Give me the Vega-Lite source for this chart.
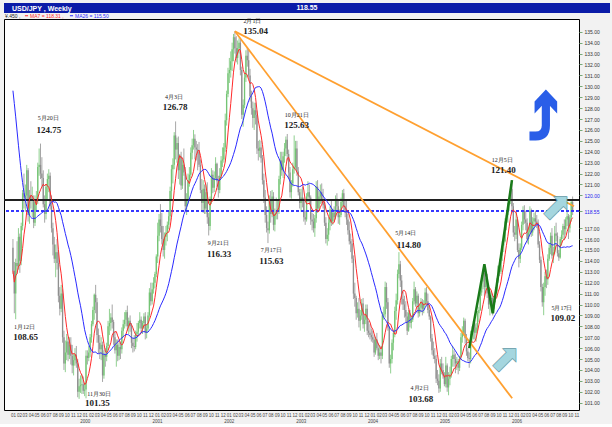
{
"$schema": "https://vega.github.io/schema/vega-lite/v6.json",
"background": "#f2f2f2",
"padding": {"left": 3, "top": 3, "right": 3, "bottom": 1},
"bounds": "flush",
"spacing": 6,
"config": {"view": {"stroke": null}, "font": "Liberation Sans", "axis": {"labelOverlap": false}},
"datasets": {
"fx": [
{"d":"1999-01-01","o":115.2,"h":116.0,"l":112.8,"c":113.1},
{"d":"1999-01-08","o":113.1,"h":113.9,"l":109.2,"c":111.0},
{"d":"1999-01-15","o":111.0,"h":114.2,"l":108.65,"c":113.8},
{"d":"1999-01-22","o":113.8,"h":115.8,"l":112.8,"c":113.5},
{"d":"1999-01-29","o":113.5,"h":117.0,"l":113.2,"c":116.2},
{"d":"1999-02-05","o":116.2,"h":116.5,"l":112.9,"c":114.0},
{"d":"1999-02-12","o":114.0,"h":117.5,"l":113.6,"c":117.2},
{"d":"1999-02-19","o":117.2,"h":120.5,"l":116.8,"c":120.2},
{"d":"1999-02-26","o":120.2,"h":122.0,"l":118.8,"c":119.8},
{"d":"1999-03-05","o":119.8,"h":121.0,"l":118.5,"c":120.0},
{"d":"1999-03-12","o":120.0,"h":122.8,"l":119.6,"c":122.3},
{"d":"1999-03-19","o":122.3,"h":122.5,"l":117.6,"c":118.2},
{"d":"1999-03-26","o":118.2,"h":120.5,"l":117.4,"c":120.0},
{"d":"1999-04-02","o":120.0,"h":121.3,"l":118.8,"c":119.6},
{"d":"1999-04-09","o":119.6,"h":120.8,"l":118.0,"c":119.7},
{"d":"1999-04-16","o":119.7,"h":120.0,"l":117.0,"c":117.5},
{"d":"1999-04-23","o":117.5,"h":120.0,"l":117.2,"c":119.4},
{"d":"1999-04-30","o":119.4,"h":120.4,"l":118.5,"c":119.6},
{"d":"1999-05-07","o":119.6,"h":123.0,"l":119.2,"c":122.6},
{"d":"1999-05-14","o":122.6,"h":124.3,"l":121.8,"c":122.8},
{"d":"1999-05-21","o":122.8,"h":124.75,"l":121.5,"c":122.0},
{"d":"1999-05-28","o":122.0,"h":123.5,"l":120.8,"c":121.6},
{"d":"1999-06-04","o":121.6,"h":122.3,"l":118.9,"c":119.2},
{"d":"1999-06-11","o":119.2,"h":120.0,"l":117.5,"c":118.3},
{"d":"1999-06-18","o":118.3,"h":121.0,"l":117.8,"c":120.8},
{"d":"1999-06-25","o":120.8,"h":122.0,"l":119.6,"c":121.5},
{"d":"1999-07-02","o":121.5,"h":122.4,"l":120.3,"c":121.8},
{"d":"1999-07-09","o":121.8,"h":122.1,"l":118.7,"c":119.0},
{"d":"1999-07-16","o":119.0,"h":120.0,"l":116.6,"c":117.0},
{"d":"1999-07-23","o":117.0,"h":117.5,"l":114.5,"c":115.5},
{"d":"1999-07-30","o":115.5,"h":116.2,"l":113.8,"c":114.2},
{"d":"1999-08-06","o":114.2,"h":115.5,"l":112.5,"c":114.8},
{"d":"1999-08-13","o":114.8,"h":116.0,"l":113.2,"c":113.8},
{"d":"1999-08-20","o":113.8,"h":115.0,"l":110.2,"c":110.8},
{"d":"1999-08-27","o":110.8,"h":111.6,"l":109.0,"c":109.6},
{"d":"1999-09-03","o":109.6,"h":111.8,"l":109.3,"c":111.0},
{"d":"1999-09-10","o":111.0,"h":111.4,"l":106.5,"c":107.0},
{"d":"1999-09-17","o":107.0,"h":107.6,"l":104.0,"c":104.6},
{"d":"1999-09-24","o":104.6,"h":106.7,"l":103.8,"c":105.6},
{"d":"1999-10-01","o":105.6,"h":107.3,"l":104.9,"c":106.6},
{"d":"1999-10-08","o":106.6,"h":107.0,"l":104.8,"c":105.4},
{"d":"1999-10-15","o":105.4,"h":107.0,"l":105.0,"c":106.3},
{"d":"1999-10-22","o":106.3,"h":107.0,"l":104.5,"c":105.3},
{"d":"1999-10-29","o":105.3,"h":106.3,"l":103.7,"c":104.4},
{"d":"1999-11-05","o":104.4,"h":105.5,"l":103.5,"c":104.9},
{"d":"1999-11-12","o":104.9,"h":106.0,"l":104.4,"c":105.4},
{"d":"1999-11-19","o":105.4,"h":106.2,"l":104.2,"c":104.6},
{"d":"1999-11-26","o":104.6,"h":105.0,"l":101.5,"c":102.0},
{"d":"1999-12-03","o":102.0,"h":103.2,"l":101.35,"c":102.5},
{"d":"1999-12-10","o":102.5,"h":103.5,"l":101.9,"c":102.6},
{"d":"1999-12-17","o":102.6,"h":103.6,"l":101.8,"c":102.7},
{"d":"1999-12-24","o":102.7,"h":103.4,"l":101.8,"c":102.1},
{"d":"1999-12-31","o":102.1,"h":102.8,"l":101.6,"c":102.2},
{"d":"2000-01-07","o":102.2,"h":105.8,"l":101.4,"c":105.3},
{"d":"2000-01-14","o":105.3,"h":105.8,"l":104.5,"c":105.1},
{"d":"2000-01-21","o":105.1,"h":106.2,"l":104.8,"c":105.6},
{"d":"2000-01-28","o":105.6,"h":107.3,"l":105.2,"c":107.0},
{"d":"2000-02-04","o":107.0,"h":108.5,"l":106.5,"c":108.2},
{"d":"2000-02-11","o":108.2,"h":109.8,"l":108.0,"c":109.5},
{"d":"2000-02-18","o":109.5,"h":111.0,"l":108.6,"c":110.9},
{"d":"2000-02-25","o":110.9,"h":111.8,"l":109.2,"c":110.2},
{"d":"2000-03-03","o":110.2,"h":110.6,"l":106.5,"c":107.2},
{"d":"2000-03-10","o":107.2,"h":107.8,"l":105.5,"c":106.5},
{"d":"2000-03-17","o":106.5,"h":107.2,"l":105.0,"c":105.9},
{"d":"2000-03-24","o":105.9,"h":107.0,"l":104.9,"c":106.3},
{"d":"2000-03-31","o":106.3,"h":106.6,"l":102.9,"c":103.5},
{"d":"2000-04-07","o":103.5,"h":105.8,"l":103.2,"c":105.4},
{"d":"2000-04-14","o":105.4,"h":106.0,"l":104.3,"c":105.2},
{"d":"2000-04-21","o":105.2,"h":106.5,"l":104.8,"c":106.2},
{"d":"2000-04-28","o":106.2,"h":108.5,"l":105.8,"c":108.0},
{"d":"2000-05-05","o":108.0,"h":109.6,"l":107.2,"c":108.3},
{"d":"2000-05-12","o":108.3,"h":109.2,"l":107.6,"c":108.8},
{"d":"2000-05-19","o":108.8,"h":110.0,"l":107.8,"c":108.4},
{"d":"2000-05-26","o":108.4,"h":108.6,"l":106.3,"c":107.0},
{"d":"2000-06-02","o":107.0,"h":107.5,"l":105.5,"c":105.8},
{"d":"2000-06-09","o":105.8,"h":106.8,"l":104.3,"c":106.3},
{"d":"2000-06-16","o":106.3,"h":106.8,"l":104.8,"c":105.3},
{"d":"2000-06-23","o":105.3,"h":106.5,"l":104.9,"c":106.1},
{"d":"2000-06-30","o":106.1,"h":106.6,"l":105.0,"c":105.9},
{"d":"2000-07-07","o":105.9,"h":107.9,"l":105.5,"c":107.6},
{"d":"2000-07-14","o":107.6,"h":108.6,"l":107.0,"c":108.2},
{"d":"2000-07-21","o":108.2,"h":109.3,"l":107.8,"c":108.6},
{"d":"2000-07-28","o":108.6,"h":109.5,"l":108.0,"c":109.3},
{"d":"2000-08-04","o":109.3,"h":109.9,"l":107.6,"c":108.0},
{"d":"2000-08-11","o":108.0,"h":108.8,"l":107.3,"c":108.5},
{"d":"2000-08-18","o":108.5,"h":109.0,"l":107.5,"c":108.0},
{"d":"2000-08-25","o":108.0,"h":108.3,"l":106.0,"c":106.5},
{"d":"2000-09-01","o":106.5,"h":106.9,"l":105.6,"c":106.2},
{"d":"2000-09-08","o":106.2,"h":107.2,"l":105.7,"c":106.1},
{"d":"2000-09-15","o":106.1,"h":107.6,"l":105.9,"c":107.3},
{"d":"2000-09-22","o":107.3,"h":108.3,"l":106.6,"c":107.5},
{"d":"2000-09-29","o":107.5,"h":108.5,"l":107.1,"c":108.3},
{"d":"2000-10-06","o":108.3,"h":109.3,"l":107.8,"c":108.6},
{"d":"2000-10-13","o":108.6,"h":108.9,"l":107.4,"c":107.8},
{"d":"2000-10-20","o":107.8,"h":108.5,"l":107.3,"c":108.3},
{"d":"2000-10-27","o":108.3,"h":109.2,"l":107.8,"c":108.9},
{"d":"2000-11-03","o":108.9,"h":109.3,"l":106.8,"c":107.4},
{"d":"2000-11-10","o":107.4,"h":108.2,"l":106.9,"c":107.8},
{"d":"2000-11-17","o":107.8,"h":109.3,"l":107.6,"c":109.0},
{"d":"2000-11-24","o":109.0,"h":111.5,"l":108.8,"c":111.1},
{"d":"2000-12-01","o":111.1,"h":112.0,"l":109.9,"c":110.3},
{"d":"2000-12-08","o":110.3,"h":112.0,"l":110.0,"c":111.4},
{"d":"2000-12-15","o":111.4,"h":112.5,"l":111.0,"c":112.0},
{"d":"2000-12-22","o":112.0,"h":113.0,"l":111.5,"c":112.8},
{"d":"2000-12-29","o":112.8,"h":114.6,"l":112.5,"c":114.4},
{"d":"2001-01-05","o":114.4,"h":117.5,"l":113.8,"c":116.3},
{"d":"2001-01-12","o":116.3,"h":118.3,"l":115.8,"c":117.8},
{"d":"2001-01-19","o":117.8,"h":119.2,"l":116.6,"c":117.2},
{"d":"2001-01-26","o":117.2,"h":118.4,"l":115.5,"c":116.0},
{"d":"2001-02-02","o":116.0,"h":117.2,"l":114.4,"c":115.0},
{"d":"2001-02-09","o":115.0,"h":116.6,"l":114.2,"c":116.2},
{"d":"2001-02-16","o":116.2,"h":117.2,"l":115.4,"c":116.6},
{"d":"2001-02-23","o":116.6,"h":117.6,"l":115.8,"c":117.3},
{"d":"2001-03-02","o":117.3,"h":118.6,"l":116.9,"c":118.1},
{"d":"2001-03-09","o":118.1,"h":120.8,"l":117.7,"c":120.4},
{"d":"2001-03-16","o":120.4,"h":122.8,"l":119.5,"c":122.4},
{"d":"2001-03-23","o":122.4,"h":123.4,"l":121.1,"c":122.8},
{"d":"2001-03-30","o":122.8,"h":125.8,"l":122.4,"c":125.5},
{"d":"2001-04-06","o":125.5,"h":126.78,"l":123.3,"c":124.2},
{"d":"2001-04-13","o":124.2,"h":125.3,"l":123.0,"c":124.8},
{"d":"2001-04-20","o":124.8,"h":125.4,"l":121.5,"c":122.3},
{"d":"2001-04-27","o":122.3,"h":123.8,"l":121.0,"c":123.6},
{"d":"2001-05-04","o":123.6,"h":124.0,"l":120.5,"c":120.9},
{"d":"2001-05-11","o":120.9,"h":123.3,"l":120.6,"c":122.8},
{"d":"2001-05-18","o":122.8,"h":124.3,"l":121.8,"c":122.1},
{"d":"2001-05-25","o":122.1,"h":122.6,"l":118.5,"c":119.0},
{"d":"2001-06-01","o":119.0,"h":120.2,"l":118.2,"c":119.5},
{"d":"2001-06-08","o":119.5,"h":122.0,"l":119.2,"c":121.4},
{"d":"2001-06-15","o":121.4,"h":122.6,"l":120.8,"c":121.9},
{"d":"2001-06-22","o":121.9,"h":124.4,"l":121.6,"c":123.9},
{"d":"2001-06-29","o":123.9,"h":125.2,"l":123.3,"c":124.6},
{"d":"2001-07-06","o":124.6,"h":126.0,"l":124.2,"c":125.2},
{"d":"2001-07-13","o":125.2,"h":125.6,"l":123.3,"c":124.4},
{"d":"2001-07-20","o":124.4,"h":125.0,"l":123.2,"c":124.2},
{"d":"2001-07-27","o":124.2,"h":124.7,"l":122.3,"c":124.0},
{"d":"2001-08-03","o":124.0,"h":124.9,"l":122.6,"c":122.8},
{"d":"2001-08-10","o":122.8,"h":123.3,"l":120.2,"c":120.5},
{"d":"2001-08-17","o":120.5,"h":121.5,"l":118.6,"c":119.3},
{"d":"2001-08-24","o":119.3,"h":121.4,"l":118.4,"c":120.6},
{"d":"2001-08-31","o":120.6,"h":121.0,"l":118.3,"c":118.8},
{"d":"2001-09-07","o":118.8,"h":121.0,"l":118.3,"c":120.3},
{"d":"2001-09-14","o":120.3,"h":121.2,"l":117.4,"c":118.0},
{"d":"2001-09-21","o":118.0,"h":118.4,"l":116.33,"c":117.2},
{"d":"2001-09-28","o":117.2,"h":119.9,"l":116.8,"c":119.5},
{"d":"2001-10-05","o":119.5,"h":122.5,"l":119.2,"c":121.9},
{"d":"2001-10-12","o":121.9,"h":122.3,"l":120.2,"c":120.7},
{"d":"2001-10-19","o":120.7,"h":122.2,"l":120.3,"c":121.6},
{"d":"2001-10-26","o":121.6,"h":123.5,"l":121.4,"c":122.9},
{"d":"2001-11-02","o":122.9,"h":123.0,"l":120.8,"c":121.3},
{"d":"2001-11-09","o":121.3,"h":121.8,"l":119.8,"c":120.5},
{"d":"2001-11-16","o":120.5,"h":122.5,"l":120.2,"c":121.8},
{"d":"2001-11-23","o":121.8,"h":123.6,"l":121.5,"c":123.2},
{"d":"2001-11-30","o":123.2,"h":124.4,"l":122.6,"c":123.3},
{"d":"2001-12-07","o":123.3,"h":124.8,"l":123.0,"c":124.4},
{"d":"2001-12-14","o":124.4,"h":127.5,"l":124.0,"c":126.9},
{"d":"2001-12-21","o":126.9,"h":129.6,"l":126.4,"c":129.3},
{"d":"2001-12-28","o":129.3,"h":131.7,"l":129.0,"c":131.2},
{"d":"2002-01-04","o":131.2,"h":132.6,"l":130.3,"c":131.5},
{"d":"2002-01-11","o":131.5,"h":133.2,"l":130.8,"c":132.3},
{"d":"2002-01-18","o":132.3,"h":134.0,"l":131.4,"c":133.4},
{"d":"2002-01-25","o":133.4,"h":134.8,"l":132.3,"c":134.5},
{"d":"2002-02-01","o":134.5,"h":135.04,"l":133.0,"c":133.5},
{"d":"2002-02-08","o":133.5,"h":134.6,"l":132.2,"c":132.6},
{"d":"2002-02-15","o":132.6,"h":134.2,"l":132.0,"c":133.5},
{"d":"2002-02-22","o":133.5,"h":134.4,"l":133.0,"c":134.0},
{"d":"2002-03-01","o":134.0,"h":134.3,"l":131.0,"c":131.5},
{"d":"2002-03-08","o":131.5,"h":131.8,"l":127.0,"c":127.4},
{"d":"2002-03-15","o":127.4,"h":128.8,"l":126.3,"c":128.3},
{"d":"2002-03-22","o":128.3,"h":131.2,"l":128.0,"c":130.8},
{"d":"2002-03-29","o":130.8,"h":133.3,"l":130.4,"c":132.8},
{"d":"2002-04-05","o":132.8,"h":133.6,"l":131.8,"c":132.4},
{"d":"2002-04-12","o":132.4,"h":133.4,"l":130.8,"c":131.0},
{"d":"2002-04-19","o":131.0,"h":131.6,"l":128.6,"c":129.1},
{"d":"2002-04-26","o":129.1,"h":129.6,"l":127.4,"c":128.0},
{"d":"2002-05-03","o":128.0,"h":128.6,"l":126.2,"c":127.1},
{"d":"2002-05-10","o":127.1,"h":128.5,"l":126.0,"c":127.8},
{"d":"2002-05-17","o":127.8,"h":128.5,"l":126.5,"c":127.4},
{"d":"2002-05-24","o":127.4,"h":127.8,"l":123.8,"c":124.3},
{"d":"2002-05-31","o":124.3,"h":125.0,"l":123.2,"c":124.1},
{"d":"2002-06-07","o":124.1,"h":125.1,"l":123.5,"c":124.4},
{"d":"2002-06-14","o":124.4,"h":125.0,"l":123.0,"c":123.4},
{"d":"2002-06-21","o":123.4,"h":123.7,"l":121.0,"c":121.4},
{"d":"2002-06-28","o":121.4,"h":122.0,"l":119.3,"c":119.8},
{"d":"2002-07-05","o":119.8,"h":120.5,"l":117.5,"c":118.2},
{"d":"2002-07-12","o":118.2,"h":119.0,"l":116.6,"c":117.0},
{"d":"2002-07-19","o":117.0,"h":117.6,"l":115.63,"c":116.8},
{"d":"2002-07-26","o":116.8,"h":120.0,"l":116.5,"c":119.6},
{"d":"2002-08-02","o":119.6,"h":120.4,"l":117.5,"c":118.3},
{"d":"2002-08-09","o":118.3,"h":120.5,"l":118.0,"c":119.9},
{"d":"2002-08-16","o":119.9,"h":120.3,"l":116.8,"c":117.3},
{"d":"2002-08-23","o":117.3,"h":118.8,"l":116.7,"c":118.3},
{"d":"2002-08-30","o":118.3,"h":119.8,"l":117.8,"c":118.6},
{"d":"2002-09-06","o":118.6,"h":119.5,"l":117.8,"c":118.5},
{"d":"2002-09-13","o":118.5,"h":121.8,"l":118.3,"c":121.5},
{"d":"2002-09-20","o":121.5,"h":124.0,"l":121.0,"c":123.2},
{"d":"2002-09-27","o":123.2,"h":124.0,"l":121.8,"c":122.3},
{"d":"2002-10-04","o":122.3,"h":124.0,"l":121.6,"c":123.6},
{"d":"2002-10-11","o":123.6,"h":124.8,"l":123.0,"c":124.3},
{"d":"2002-10-18","o":124.3,"h":125.4,"l":123.6,"c":125.1},
{"d":"2002-10-25","o":125.1,"h":125.63,"l":123.2,"c":123.8},
{"d":"2002-11-01","o":123.8,"h":124.2,"l":121.5,"c":122.1},
{"d":"2002-11-08","o":122.1,"h":122.6,"l":119.8,"c":120.3},
{"d":"2002-11-15","o":120.3,"h":121.4,"l":119.7,"c":121.1},
{"d":"2002-11-22","o":121.1,"h":123.0,"l":120.8,"c":122.4},
{"d":"2002-11-29","o":122.4,"h":125.5,"l":122.0,"c":122.6},
{"d":"2002-12-06","o":122.6,"h":125.0,"l":122.4,"c":124.3},
{"d":"2002-12-13","o":124.3,"h":125.0,"l":121.8,"c":122.2},
{"d":"2002-12-20","o":122.2,"h":122.6,"l":120.0,"c":120.3},
{"d":"2002-12-27","o":120.3,"h":120.6,"l":118.8,"c":119.3},
{"d":"2003-01-03","o":119.3,"h":120.6,"l":118.5,"c":119.8},
{"d":"2003-01-10","o":119.8,"h":120.8,"l":118.9,"c":119.5},
{"d":"2003-01-17","o":119.5,"h":119.8,"l":117.6,"c":118.0},
{"d":"2003-01-24","o":118.0,"h":118.6,"l":117.3,"c":117.8},
{"d":"2003-01-31","o":117.8,"h":120.2,"l":117.6,"c":119.9},
{"d":"2003-02-07","o":119.9,"h":121.3,"l":119.4,"c":120.3},
{"d":"2003-02-14","o":120.3,"h":121.0,"l":119.3,"c":119.8},
{"d":"2003-02-21","o":119.8,"h":120.0,"l":117.3,"c":117.8},
{"d":"2003-02-28","o":117.8,"h":118.4,"l":116.8,"c":117.6},
{"d":"2003-03-07","o":117.6,"h":118.3,"l":116.6,"c":117.0},
{"d":"2003-03-14","o":117.0,"h":118.2,"l":116.2,"c":117.9},
{"d":"2003-03-21","o":117.9,"h":121.3,"l":117.5,"c":120.8},
{"d":"2003-03-28","o":120.8,"h":121.4,"l":118.4,"c":118.8},
{"d":"2003-04-04","o":118.8,"h":120.4,"l":118.6,"c":119.9},
{"d":"2003-04-11","o":119.9,"h":121.0,"l":119.2,"c":120.3},
{"d":"2003-04-18","o":120.3,"h":121.1,"l":119.3,"c":119.6},
{"d":"2003-04-25","o":119.6,"h":120.6,"l":118.8,"c":119.1},
{"d":"2003-05-02","o":119.1,"h":119.4,"l":117.2,"c":117.5},
{"d":"2003-05-09","o":117.5,"h":118.0,"l":115.6,"c":116.0},
{"d":"2003-05-16","o":116.0,"h":117.0,"l":115.4,"c":116.4},
{"d":"2003-05-23","o":116.4,"h":118.0,"l":115.8,"c":117.5},
{"d":"2003-05-30","o":117.5,"h":119.0,"l":116.8,"c":118.7},
{"d":"2003-06-06","o":118.7,"h":119.6,"l":117.2,"c":117.6},
{"d":"2003-06-13","o":117.6,"h":118.8,"l":117.3,"c":118.4},
{"d":"2003-06-20","o":118.4,"h":119.0,"l":117.6,"c":118.0},
{"d":"2003-06-27","o":118.0,"h":120.0,"l":117.8,"c":119.7},
{"d":"2003-07-04","o":119.7,"h":120.2,"l":118.5,"c":119.0},
{"d":"2003-07-11","o":119.0,"h":119.6,"l":117.4,"c":118.0},
{"d":"2003-07-18","o":118.0,"h":118.7,"l":117.3,"c":118.2},
{"d":"2003-07-25","o":118.2,"h":119.8,"l":118.0,"c":119.4},
{"d":"2003-08-01","o":119.4,"h":120.5,"l":119.0,"c":120.2},
{"d":"2003-08-08","o":120.2,"h":120.6,"l":118.6,"c":119.0},
{"d":"2003-08-15","o":119.0,"h":119.6,"l":118.0,"c":118.4},
{"d":"2003-08-22","o":118.4,"h":119.5,"l":117.3,"c":117.8},
{"d":"2003-08-29","o":117.8,"h":118.3,"l":116.4,"c":116.8},
{"d":"2003-09-05","o":116.8,"h":117.6,"l":115.5,"c":115.8},
{"d":"2003-09-12","o":115.8,"h":116.5,"l":114.8,"c":115.6},
{"d":"2003-09-19","o":115.6,"h":116.0,"l":113.8,"c":114.2},
{"d":"2003-09-26","o":114.2,"h":114.5,"l":110.5,"c":111.0},
{"d":"2003-10-03","o":111.0,"h":112.0,"l":109.8,"c":110.6},
{"d":"2003-10-10","o":110.6,"h":110.8,"l":108.6,"c":109.2},
{"d":"2003-10-17","o":109.2,"h":110.2,"l":108.8,"c":109.6},
{"d":"2003-10-24","o":109.6,"h":110.6,"l":107.9,"c":108.5},
{"d":"2003-10-31","o":108.5,"h":109.5,"l":107.6,"c":109.0},
{"d":"2003-11-07","o":109.0,"h":110.5,"l":108.6,"c":110.1},
{"d":"2003-11-14","o":110.1,"h":110.6,"l":107.8,"c":108.2},
{"d":"2003-11-21","o":108.2,"h":109.0,"l":107.5,"c":108.6},
{"d":"2003-11-28","o":108.6,"h":110.0,"l":108.2,"c":109.6},
{"d":"2003-12-05","o":109.6,"h":110.0,"l":107.2,"c":107.6},
{"d":"2003-12-12","o":107.6,"h":108.5,"l":107.0,"c":107.4},
{"d":"2003-12-19","o":107.4,"h":108.2,"l":106.8,"c":107.2},
{"d":"2003-12-26","o":107.2,"h":107.8,"l":106.6,"c":107.0},
{"d":"2004-01-02","o":107.0,"h":107.6,"l":106.5,"c":106.8},
{"d":"2004-01-09","o":106.8,"h":107.2,"l":105.2,"c":105.6},
{"d":"2004-01-16","o":105.6,"h":107.0,"l":105.4,"c":106.8},
{"d":"2004-01-23","o":106.8,"h":107.4,"l":105.8,"c":106.0},
{"d":"2004-01-30","o":106.0,"h":106.5,"l":104.9,"c":105.3},
{"d":"2004-02-06","o":105.3,"h":106.3,"l":105.0,"c":105.6},
{"d":"2004-02-13","o":105.6,"h":106.2,"l":104.6,"c":105.3},
{"d":"2004-02-20","o":105.3,"h":109.3,"l":105.0,"c":109.0},
{"d":"2004-02-27","o":109.0,"h":109.8,"l":108.6,"c":109.1},
{"d":"2004-03-05","o":109.1,"h":112.1,"l":108.8,"c":111.6},
{"d":"2004-03-12","o":111.6,"h":112.0,"l":109.6,"c":110.2},
{"d":"2004-03-19","o":110.2,"h":110.6,"l":107.6,"c":107.9},
{"d":"2004-03-26","o":107.9,"h":108.0,"l":104.2,"c":104.6},
{"d":"2004-04-02","o":104.6,"h":105.4,"l":103.68,"c":105.0},
{"d":"2004-04-09","o":105.0,"h":106.8,"l":104.6,"c":106.5},
{"d":"2004-04-16","o":106.5,"h":107.6,"l":105.8,"c":107.4},
{"d":"2004-04-23","o":107.4,"h":109.8,"l":107.0,"c":109.4},
{"d":"2004-04-30","o":109.4,"h":111.0,"l":108.6,"c":110.4},
{"d":"2004-05-07","o":110.4,"h":113.2,"l":110.0,"c":112.8},
{"d":"2004-05-14","o":112.8,"h":114.8,"l":112.4,"c":113.7},
{"d":"2004-05-21","o":113.7,"h":114.0,"l":111.6,"c":112.2},
{"d":"2004-05-28","o":112.2,"h":112.7,"l":110.0,"c":110.5},
{"d":"2004-06-04","o":110.5,"h":111.2,"l":109.5,"c":110.0},
{"d":"2004-06-11","o":110.0,"h":110.8,"l":108.8,"c":109.5},
{"d":"2004-06-18","o":109.5,"h":110.3,"l":108.4,"c":108.9},
{"d":"2004-06-25","o":108.9,"h":109.3,"l":107.2,"c":107.6},
{"d":"2004-07-02","o":107.6,"h":109.5,"l":107.5,"c":109.2},
{"d":"2004-07-09","o":109.2,"h":109.5,"l":107.9,"c":108.3},
{"d":"2004-07-16","o":108.3,"h":109.0,"l":107.8,"c":108.6},
{"d":"2004-07-23","o":108.6,"h":110.6,"l":108.4,"c":110.3},
{"d":"2004-07-30","o":110.3,"h":112.1,"l":110.0,"c":111.4},
{"d":"2004-08-06","o":111.4,"h":111.6,"l":109.8,"c":110.1},
{"d":"2004-08-13","o":110.1,"h":111.2,"l":109.8,"c":110.8},
{"d":"2004-08-20","o":110.8,"h":111.0,"l":108.8,"c":109.2},
{"d":"2004-08-27","o":109.2,"h":110.0,"l":108.9,"c":109.7},
{"d":"2004-09-03","o":109.7,"h":110.6,"l":109.3,"c":110.2},
{"d":"2004-09-10","o":110.2,"h":110.5,"l":109.0,"c":109.6},
{"d":"2004-09-17","o":109.6,"h":110.4,"l":109.2,"c":110.0},
{"d":"2004-09-24","o":110.0,"h":111.5,"l":109.8,"c":111.1},
{"d":"2004-10-01","o":111.1,"h":111.6,"l":110.0,"c":110.3},
{"d":"2004-10-08","o":110.3,"h":111.0,"l":109.2,"c":109.5},
{"d":"2004-10-15","o":109.5,"h":110.0,"l":108.6,"c":108.9},
{"d":"2004-10-22","o":108.9,"h":109.0,"l":106.6,"c":106.9},
{"d":"2004-10-29","o":106.9,"h":107.3,"l":105.4,"c":105.8},
{"d":"2004-11-05","o":105.8,"h":106.6,"l":105.0,"c":105.3},
{"d":"2004-11-12","o":105.3,"h":106.0,"l":104.6,"c":105.0},
{"d":"2004-11-19","o":105.0,"h":105.4,"l":102.8,"c":103.2},
{"d":"2004-11-26","o":103.2,"h":104.0,"l":102.6,"c":103.0},
{"d":"2004-12-03","o":103.0,"h":103.6,"l":101.9,"c":102.3},
{"d":"2004-12-10","o":102.3,"h":105.0,"l":102.0,"c":104.6},
{"d":"2004-12-17","o":104.6,"h":105.2,"l":103.6,"c":104.0},
{"d":"2004-12-24","o":104.0,"h":104.6,"l":103.2,"c":103.5},
{"d":"2004-12-31","o":103.5,"h":103.8,"l":102.5,"c":102.7},
{"d":"2005-01-07","o":102.7,"h":105.2,"l":102.4,"c":104.4},
{"d":"2005-01-14","o":104.4,"h":104.6,"l":102.0,"c":102.4},
{"d":"2005-01-21","o":102.4,"h":103.8,"l":101.68,"c":103.2},
{"d":"2005-01-28","o":103.2,"h":104.3,"l":102.6,"c":103.6},
{"d":"2005-02-04","o":103.6,"h":105.3,"l":103.3,"c":105.0},
{"d":"2005-02-11","o":105.0,"h":106.2,"l":104.3,"c":105.4},
{"d":"2005-02-18","o":105.4,"h":105.8,"l":104.3,"c":105.0},
{"d":"2005-02-25","o":105.0,"h":105.5,"l":103.7,"c":104.6},
{"d":"2005-03-04","o":104.6,"h":105.2,"l":104.0,"c":104.8},
{"d":"2005-03-11","o":104.8,"h":105.0,"l":103.6,"c":104.2},
{"d":"2005-03-18","o":104.2,"h":105.3,"l":103.9,"c":105.2},
{"d":"2005-03-25","o":105.2,"h":107.4,"l":105.0,"c":107.0},
{"d":"2005-04-01","o":107.0,"h":108.0,"l":106.5,"c":107.4},
{"d":"2005-04-08","o":107.4,"h":108.8,"l":107.1,"c":108.5},
{"d":"2005-04-15","o":108.5,"h":108.7,"l":106.4,"c":106.9},
{"d":"2005-04-22","o":106.9,"h":107.3,"l":105.3,"c":105.7},
{"d":"2005-04-29","o":105.7,"h":106.0,"l":104.8,"c":105.1},
{"d":"2005-05-06","o":105.1,"h":105.6,"l":104.2,"c":105.0},
{"d":"2005-05-13","o":105.0,"h":107.6,"l":104.6,"c":107.3},
{"d":"2005-05-20","o":107.3,"h":108.0,"l":106.6,"c":107.5},
{"d":"2005-05-27","o":107.5,"h":108.5,"l":106.8,"c":108.2},
{"d":"2005-06-03","o":108.2,"h":108.6,"l":106.8,"c":107.4},
{"d":"2005-06-10","o":107.4,"h":108.3,"l":106.6,"c":107.9},
{"d":"2005-06-17","o":107.9,"h":109.4,"l":107.5,"c":109.2},
{"d":"2005-06-24","o":109.2,"h":109.8,"l":108.4,"c":109.5},
{"d":"2005-07-01","o":109.5,"h":111.3,"l":109.4,"c":111.1},
{"d":"2005-07-08","o":111.1,"h":112.7,"l":110.8,"c":112.1},
{"d":"2005-07-15","o":112.1,"h":113.2,"l":111.4,"c":112.9},
{"d":"2005-07-22","o":112.9,"h":113.7,"l":110.8,"c":111.6},
{"d":"2005-07-29","o":111.6,"h":113.0,"l":111.2,"c":112.4},
{"d":"2005-08-05","o":112.4,"h":112.8,"l":110.6,"c":111.0},
{"d":"2005-08-12","o":111.0,"h":111.4,"l":109.6,"c":110.0},
{"d":"2005-08-19","o":110.0,"h":110.8,"l":109.0,"c":110.5},
{"d":"2005-08-26","o":110.5,"h":111.3,"l":109.8,"c":110.6},
{"d":"2005-09-02","o":110.6,"h":111.0,"l":109.0,"c":109.6},
{"d":"2005-09-09","o":109.6,"h":110.8,"l":109.2,"c":110.5},
{"d":"2005-09-16","o":110.5,"h":111.6,"l":110.2,"c":111.2},
{"d":"2005-09-23","o":111.2,"h":112.4,"l":111.0,"c":112.2},
{"d":"2005-09-30","o":112.2,"h":113.6,"l":112.0,"c":113.5},
{"d":"2005-10-07","o":113.5,"h":114.2,"l":112.6,"c":113.0},
{"d":"2005-10-14","o":113.0,"h":114.8,"l":112.8,"c":114.5},
{"d":"2005-10-21","o":114.5,"h":115.8,"l":114.0,"c":115.4},
{"d":"2005-10-28","o":115.4,"h":116.4,"l":114.8,"c":115.8},
{"d":"2005-11-04","o":115.8,"h":117.9,"l":115.7,"c":117.6},
{"d":"2005-11-11","o":117.6,"h":118.4,"l":116.8,"c":118.2},
{"d":"2005-11-18","o":118.2,"h":119.3,"l":117.5,"c":119.1},
{"d":"2005-11-25","o":119.1,"h":119.8,"l":118.6,"c":119.6},
{"d":"2005-12-02","o":119.6,"h":121.0,"l":119.2,"c":120.6},
{"d":"2005-12-09","o":120.6,"h":121.4,"l":118.4,"c":119.0},
{"d":"2005-12-16","o":119.0,"h":119.3,"l":116.2,"c":116.6},
{"d":"2005-12-23","o":116.6,"h":117.2,"l":115.8,"c":116.4},
{"d":"2005-12-30","o":116.4,"h":118.5,"l":116.0,"c":117.8},
{"d":"2006-01-06","o":117.8,"h":118.0,"l":114.8,"c":115.0},
{"d":"2006-01-13","o":115.0,"h":115.6,"l":113.4,"c":114.2},
{"d":"2006-01-20","o":114.2,"h":115.6,"l":113.8,"c":115.2},
{"d":"2006-01-27","o":115.2,"h":117.6,"l":115.0,"c":117.3},
{"d":"2006-02-03","o":117.3,"h":119.0,"l":116.8,"c":118.6},
{"d":"2006-02-10","o":118.6,"h":119.1,"l":117.4,"c":117.8},
{"d":"2006-02-17","o":117.8,"h":118.6,"l":116.8,"c":117.5},
{"d":"2006-02-24","o":117.5,"h":117.9,"l":115.6,"c":116.0},
{"d":"2006-03-03","o":116.0,"h":117.0,"l":115.5,"c":116.6},
{"d":"2006-03-10","o":116.6,"h":119.0,"l":116.4,"c":118.6},
{"d":"2006-03-17","o":118.6,"h":118.8,"l":116.2,"c":116.6},
{"d":"2006-03-24","o":116.6,"h":118.0,"l":116.3,"c":117.6},
{"d":"2006-03-31","o":117.6,"h":118.4,"l":116.8,"c":117.9},
{"d":"2006-04-07","o":117.9,"h":118.6,"l":117.2,"c":117.6},
{"d":"2006-04-14","o":117.6,"h":118.2,"l":117.0,"c":117.5},
{"d":"2006-04-21","o":117.5,"h":117.8,"l":115.2,"c":115.5},
{"d":"2006-04-28","o":115.5,"h":115.8,"l":113.8,"c":114.1},
{"d":"2006-05-05","o":114.1,"h":114.4,"l":111.2,"c":111.6},
{"d":"2006-05-12","o":111.6,"h":111.9,"l":109.8,"c":110.2},
{"d":"2006-05-19","o":110.2,"h":112.0,"l":109.02,"c":111.6},
{"d":"2006-05-26","o":111.6,"h":113.0,"l":110.8,"c":112.6},
{"d":"2006-06-02","o":112.6,"h":113.2,"l":111.5,"c":112.3},
{"d":"2006-06-09","o":112.3,"h":114.6,"l":111.8,"c":114.2},
{"d":"2006-06-16","o":114.2,"h":115.6,"l":114.0,"c":115.2},
{"d":"2006-06-23","o":115.2,"h":116.6,"l":114.6,"c":116.3},
{"d":"2006-06-30","o":116.3,"h":117.0,"l":114.2,"c":114.5},
{"d":"2006-07-07","o":114.5,"h":115.3,"l":113.8,"c":114.8},
{"d":"2006-07-14","o":114.8,"h":117.2,"l":114.6,"c":116.5},
{"d":"2006-07-21","o":116.5,"h":117.5,"l":115.8,"c":116.3},
{"d":"2006-07-28","o":116.3,"h":116.6,"l":114.4,"c":114.7},
{"d":"2006-08-04","o":114.7,"h":115.0,"l":114.0,"c":114.3},
{"d":"2006-08-11","o":114.3,"h":116.2,"l":114.2,"c":116.0},
{"d":"2006-08-18","o":116.0,"h":116.8,"l":115.4,"c":116.4},
{"d":"2006-08-25","o":116.4,"h":117.4,"l":116.0,"c":117.2},
{"d":"2006-09-01","o":117.2,"h":117.8,"l":115.9,"c":116.9},
{"d":"2006-09-08","o":116.9,"h":118.0,"l":116.4,"c":117.8},
{"d":"2006-09-15","o":117.8,"h":118.5,"l":117.2,"c":118.1},
{"d":"2006-09-22","o":118.1,"h":118.3,"l":116.0,"c":117.0},
{"d":"2006-09-29","o":117.0,"h":118.2,"l":116.6,"c":118.0},
{"d":"2006-10-06","o":118.0,"h":119.6,"l":117.6,"c":119.4},
{"d":"2006-10-13","o":119.4,"h":119.9,"l":118.2,"c":118.55}
],
"ma26head": [
{"d":"1999-01-01","v":129.6},{"d":"1999-01-15","v":127.2},{"d":"1999-01-29","v":124.6},{"d":"1999-02-12","v":122.2},{"d":"1999-02-26","v":120.3},{"d":"1999-03-12","v":119.0},{"d":"1999-03-26","v":118.2},{"d":"1999-04-09","v":117.9},{"d":"1999-04-23","v":117.9},{"d":"1999-05-07","v":118.1},{"d":"1999-05-21","v":118.3},{"d":"1999-06-04","v":118.5},{"d":"1999-06-25","v":118.6}
],
"trend": [
{"g":"a","d":"2002-02-01","p":135.04},{"g":"a","d":"2006-10-20","p":119.0},
{"g":"b","d":"2002-02-01","p":135.04},{"g":"b","d":"2005-12-10","p":101.4}
],
"wave": [
{"d":"2005-05-06","p":106.0},{"d":"2005-07-22","p":113.7},{"d":"2005-09-02","p":109.2},{"d":"2005-12-09","p":121.4}
],
"notes": [
{"d":"1999-06-29","p":127.08,"t":"5月20日","k":"date"},{"d":"1999-07-03","p":125.98,"t":"124.75","k":"price"},
{"d":"1999-03-01","p":107.91,"t":"1月12日","k":"date"},{"d":"1999-03-06","p":107.0,"t":"108.65","k":"price"},
{"d":"2000-03-14","p":101.76,"t":"11月30日","k":"date"},{"d":"2000-03-05","p":100.93,"t":"101.35","k":"price"},
{"d":"2001-03-29","p":129.0,"t":"4月3日","k":"date"},{"d":"2001-04-03","p":128.09,"t":"126.78","k":"price"},
{"d":"2001-11-08","p":115.61,"t":"9月21日","k":"date"},{"d":"2001-11-13","p":114.61,"t":"116.33","k":"price"},
{"d":"2002-05-01","p":136.0,"t":"2月1日","k":"date"},{"d":"2002-05-17","p":135.06,"t":"135.04","k":"price"},
{"d":"2002-08-05","p":114.97,"t":"7月17日","k":"date"},{"d":"2002-08-05","p":113.96,"t":"115.63","k":"price"},
{"d":"2002-12-12","p":127.36,"t":"10月21日","k":"date"},{"d":"2002-12-12","p":126.44,"t":"125.63","k":"price"},
{"d":"2004-06-18","p":116.53,"t":"5月14日","k":"date"},{"d":"2004-07-03","p":115.43,"t":"114.80","k":"price"},
{"d":"2004-08-27","p":102.31,"t":"4月2日","k":"date"},{"d":"2004-09-02","p":101.3,"t":"103.68","k":"price"},
{"d":"2005-10-21","p":123.23,"t":"12月5日","k":"date"},{"d":"2005-10-26","p":122.31,"t":"121.40","k":"price"},
{"d":"2006-08-20","p":109.65,"t":"5月17日","k":"date"},{"d":"2006-08-25","p":108.73,"t":"109.02","k":"price"}
],
"curve": [{"d":"2006-05-18","p":126.7,"t":"⤴"}],
"fat": [{"d":"2005-11-04","p":104.9,"t":"⬈"},{"d":"2006-07-21","p":118.8,"t":"⬈"}]
},
"vconcat": [
{
"width": 606, "height": 10,
"view": {"fill": "#0b1ca8", "stroke": null},
"title": {"text": "USD/JPY , Weekly", "anchor": "start", "orient": "top", "offset": -9, "dx": 8, "color": "#ffffff", "fontSize": 7, "fontWeight": "bold", "font": "Liberation Sans", "frame": "group"},
"data": {"values": [{"t": "118.55"}]},
"mark": {"type": "text", "color": "#ffffff", "fontSize": 7, "fontWeight": "bold", "font": "Liberation Sans"},
"encoding": {"text": {"field": "t"}}
},
{
"width": 575, "height": 391,
"view": {"fill": "#ffffff", "stroke": "#000000", "strokeWidth": 1},
"data": {"name": "fx"},
"layer": [
{"mark": {"type": "rule", "strokeWidth": 0.8},
 "encoding": {
  "x": {"field": "d", "type": "temporal", "title": null,
        "scale": {"domain": ["1998-12-12", "2006-10-20"], "nice": false},
        "axis": {"orient": "bottom", "grid": false, "domain": false, "ticks": false, "labelPadding": 2,
                 "tickCount": {"interval": "month", "step": 1},
                 "labelExpr": "year(datum.value) < 1999 ? '' : (month(datum.value) == 0 && year(datum.value) > 1999 ? [timeFormat(datum.value, '%m'), timeFormat(datum.value, '%Y')] : timeFormat(datum.value, '%m'))",
                 "labelFontSize": 4.5, "labelColor": "#444444", "labelOverlap": false, "labelFlush": false, "labelLineHeight": 6, "labelBaseline": "top"}},
  "y": {"field": "l", "type": "quantitative", "title": null,
        "scale": {"domain": [100.33, 136.17], "nice": false, "zero": false},
        "axis": {"orient": "right", "grid": false, "domain": false, "tickCount": 60,
                 "values": [101,102,103,104,105,106,107,108,109,110,111,112,113,114,115,116,117,118.55,120,121,122,123,124,125,126,127,128,129,130,131,132,133,134,135],
                 "format": ".2f", "labelFontSize": 5, "labelPadding": 2, "tickSize": 3, "tickColor": "#77aa77",
                 "labelOverlap": false, "labelFlush": false,
                 "labelColor": {"condition": {"test": "datum.value == 120 || datum.value == 118.55", "value": "#2222ee"}, "value": "#333333"}}},
  "y2": {"field": "h"},
  "color": {"condition": {"test": "datum.c >= datum.o", "value": "#74c474"}, "value": "#8f8f8f"}
 }},
{"mark": {"type": "bar", "size": 1.3},
 "encoding": {
  "x": {"field": "d", "type": "temporal", "title": null},
  "y": {"field": "o", "type": "quantitative", "title": null},
  "y2": {"field": "c"},
  "color": {"condition": {"test": "datum.c >= datum.o", "value": "#74c474"}, "value": "#8f8f8f"}
 }},
{"mark": {"type": "rule", "color": "#222222", "strokeWidth": 0.8},
 "encoding": {"y": {"datum": 119.6}}},
{"mark": {"type": "rule", "color": "#3a3aff", "strokeWidth": 0.8, "strokeDash": [3, 2]},
 "encoding": {"y": {"datum": 118.55}}},
{"transform": [{"window": [{"op": "mean", "field": "c", "as": "m7"}], "frame": [-6, 0], "sort": [{"field": "d"}]}],
 "mark": {"type": "line", "strokeWidth": 1},
 "encoding": {
  "x": {"field": "d", "type": "temporal", "title": null},
  "y": {"field": "m7", "type": "quantitative", "title": null},
  "color": {"datum": "MA7 = 118.31 ,", "type": "nominal",
            "scale": {"domain": ["MA7 = 118.31 ,", "MA26 = 115.50"], "range": ["#ff2a2a", "#2a2aff"]},
            "legend": {"orient": "none", "legendX": 1, "legendY": 10, "direction": "horizontal",
                       "title": "¥.450 ,", "titleOrient": "left", "titleFontSize": 5, "titleFontWeight": "normal", "titleColor": "#222222", "titlePadding": 3,
                       "labelFontSize": 5, "symbolType": "stroke", "symbolSize": 10, "symbolStrokeWidth": 1,
                       "columnPadding": 3, "labelOffset": 1, "padding": 0, "rowPadding": 0,
                       "encode": {"labels": {"update": {"fill": {"signal": "datum.value == 'MA26 = 115.50' ? '#2a2aff' : '#ff2a2a'"}}}}}}
 }},
{"transform": [{"window": [{"op": "mean", "field": "c", "as": "m26"}, {"op": "count", "as": "n"}], "frame": [-25, 0], "sort": [{"field": "d"}]}, {"filter": "datum.n >= 26"}],
 "mark": {"type": "line", "strokeWidth": 1},
 "encoding": {
  "x": {"field": "d", "type": "temporal", "title": null},
  "y": {"field": "m26", "type": "quantitative", "title": null},
  "color": {"datum": "MA26 = 115.50", "type": "nominal"}
 }},
{"data": {"name": "ma26head"},
 "mark": {"type": "line", "strokeWidth": 1, "interpolate": "monotone"},
 "encoding": {
  "x": {"field": "d", "type": "temporal", "title": null},
  "y": {"field": "v", "type": "quantitative", "title": null},
  "color": {"datum": "MA26 = 115.50", "type": "nominal"}
 }},
{"data": {"name": "trend"},
 "mark": {"type": "line", "color": "#ffa030", "strokeWidth": 1.8},
 "encoding": {
  "x": {"field": "d", "type": "temporal", "title": null},
  "y": {"field": "p", "type": "quantitative", "title": null},
  "detail": {"field": "g"}
 }},
{"data": {"name": "wave"},
 "mark": {"type": "line", "color": "#1a7a1a", "strokeWidth": 2.5},
 "encoding": {
  "x": {"field": "d", "type": "temporal", "title": null},
  "y": {"field": "p", "type": "quantitative", "title": null}
 }},
{"data": {"name": "notes"},
 "transform": [{"filter": "datum.k == 'date'"}],
 "mark": {"type": "text", "fontSize": 6, "font": "Liberation Serif", "color": "#222222", "baseline": "middle"},
 "encoding": {
  "x": {"field": "d", "type": "temporal", "title": null},
  "y": {"field": "p", "type": "quantitative", "title": null},
  "text": {"field": "t"}
 }},
{"data": {"name": "notes"},
 "transform": [{"filter": "datum.k == 'price'"}],
 "mark": {"type": "text", "fontSize": 9, "fontWeight": "bold", "font": "Liberation Serif", "color": "#222222", "baseline": "middle"},
 "encoding": {
  "x": {"field": "d", "type": "temporal", "title": null},
  "y": {"field": "p", "type": "quantitative", "title": null},
  "text": {"field": "t"}
 }},
{"data": {"name": "curve"},
 "mark": {"type": "text", "fontSize": 58, "font": "DejaVu Sans", "fontWeight": "bold", "color": "#2a5ee8", "stroke": "#2a5ee8", "strokeWidth": 3, "baseline": "middle"},
 "encoding": {
  "x": {"field": "d", "type": "temporal", "title": null},
  "y": {"field": "p", "type": "quantitative", "title": null},
  "text": {"field": "t"}
 }},
{"data": {"name": "fat"},
 "mark": {"type": "text", "fontSize": 38, "font": "DejaVu Sans", "fill": "#a4d6df", "stroke": "#5f9aa6", "strokeWidth": 0.6, "baseline": "middle"},
 "encoding": {
  "x": {"field": "d", "type": "temporal", "title": null},
  "y": {"field": "p", "type": "quantitative", "title": null},
  "text": {"field": "t"}
 }}
]
}
]
}
